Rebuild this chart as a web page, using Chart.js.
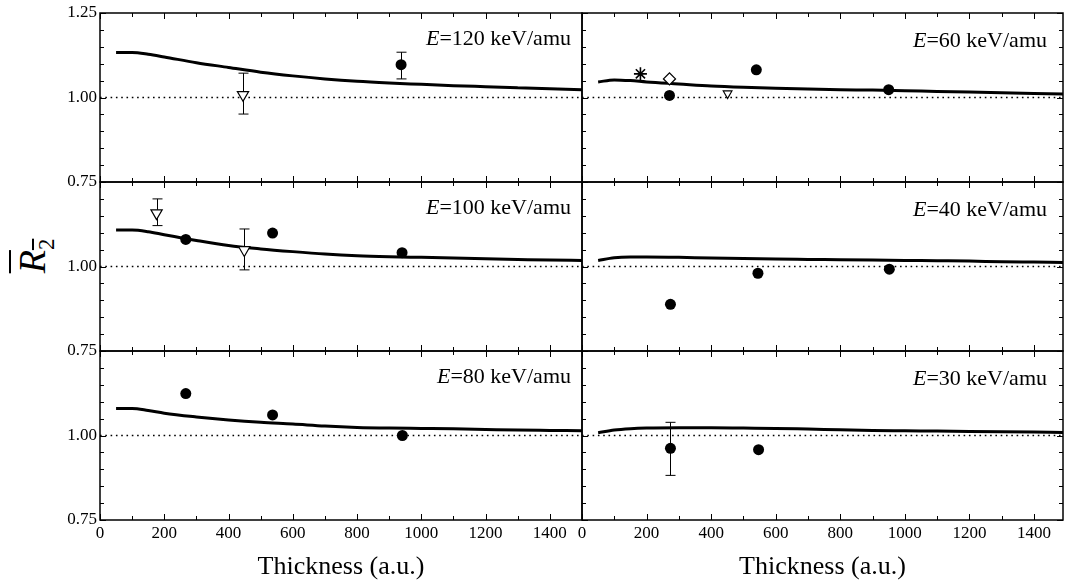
<!DOCTYPE html>
<html>
<head>
<meta charset="utf-8">
<script src="https://cdn.jsdelivr.net/npm/chart.js@4.4.1/dist/chart.umd.min.js"></script>
<style>
  body { margin: 0; background: #fff; width: 1065px; height: 583px; position: relative; overflow: hidden; }
  canvas { position: absolute; }
  #ytitle {
    position: absolute; left: -18px; top: 231px; width: 100px; height: 50px; line-height: 50px;
    text-align: center; font-family: "Liberation Serif", serif; font-size: 38px; color: #000;
    transform: rotate(-90deg);
  }
  #ytitle span { text-decoration: overline; text-decoration-thickness: 2px; }
  #ytitle sub { font-size: 0.6em; }
</style>
</head>
<body>
<div id="ytitle"><span><i>R</i><sub>2</sub></span></div>
<script>
// theory curves, sampled along the thickness axis (a.u.)
const thickness = [50, 100, 150, 200, 300, 400, 500, 600, 700, 800, 900, 1000, 1100, 1200, 1300, 1400, 1500];
const theory120 = [1.133, 1.133, 1.128, 1.120, 1.103, 1.089, 1.075, 1.064, 1.055, 1.048, 1.043, 1.039, 1.035, 1.032, 1.029, 1.026, 1.023];
const theory60  = [1.046, 1.052, 1.050, 1.046, 1.040, 1.034, 1.030, 1.027, 1.025, 1.023, 1.022, 1.020, 1.018, 1.016, 1.014, 1.012, 1.010];
const theory100 = [1.108, 1.108, 1.103, 1.094, 1.077, 1.062, 1.052, 1.044, 1.037, 1.032, 1.029, 1.027, 1.025, 1.023, 1.021, 1.019, 1.018];
const theory40  = [1.018, 1.026, 1.028, 1.028, 1.027, 1.025, 1.024, 1.022, 1.021, 1.020, 1.019, 1.018, 1.017, 1.016, 1.014, 1.013, 1.012];
const theory80  = [1.080, 1.080, 1.074, 1.066, 1.055, 1.046, 1.039, 1.034, 1.028, 1.024, 1.022, 1.021, 1.020, 1.018, 1.016, 1.015, 1.014];
const theory30  = [1.008, 1.016, 1.020, 1.022, 1.023, 1.023, 1.022, 1.021, 1.019, 1.017, 1.015, 1.014, 1.013, 1.012, 1.011, 1.010, 1.009];

// measured points (lo / hi = error bar ends)
const circ120 = [{x: 937, y: 1.097, lo: 1.055, hi: 1.134}];
const tri120  = [{x: 445, y: 1.008, lo: 0.951, hi: 1.072}];
const circ100 = [{x: 267, y: 1.080}, {x: 537, y: 1.099}, {x: 940, y: 1.041}];
const tri100  = [{x: 176, y: 1.158, lo: 1.121, hi: 1.200}, {x: 449, y: 1.049, lo: 0.990, hi: 1.111}];
const circ80  = [{x: 267, y: 1.124}, {x: 537, y: 1.061}, {x: 941, y: 1.000}];
const circ60  = [{x: 271, y: 1.006}, {x: 540, y: 1.082}, {x: 950, y: 1.023}];
const tri60   = [{x: 451, y: 1.012}];
const diam60  = [{x: 271, y: 1.055}];
const star60  = [{x: 181, y: 1.070}];
const circ40  = [{x: 274, y: 0.888}, {x: 545, y: 0.980}, {x: 952, y: 0.992}];
const circ30  = [{x: 274, y: 0.962, lo: 0.882, hi: 1.039}, {x: 547, y: 0.958}];

const energies = ['120', '60', '100', '40', '80', '30'];
const xTicks = [0, 100, 200, 300, 400, 500, 600, 700, 800, 900, 1000, 1100, 1200, 1300, 1400, 1500];
const xLabels = [0, 200, 400, 600, 800, 1000, 1200, 1400];
const yTicks = [0.75, 0.80, 0.85, 0.90, 0.95, 1.00, 1.05, 1.10, 1.15, 1.20, 1.25];
const yLabels = ['0.75', '1.00', '1.25'];
const xTitle = 'Thickness (a.u.)';

Chart.defaults.font.family = '"Liberation Serif", "Times New Roman", serif';
Chart.defaults.color = '#000';
Chart.defaults.animation = false;

const panels = [
  {energy: energies[0], col: 0, row: 0, theory: theory120, circles: circ120, triangles: tri120},
  {energy: energies[1], col: 1, row: 0, theory: theory60, circles: circ60, triangles: tri60, diamonds: diam60, stars: star60},
  {energy: energies[2], col: 0, row: 1, theory: theory100, circles: circ100, triangles: tri100},
  {energy: energies[3], col: 1, row: 1, theory: theory40, circles: circ40},
  {energy: energies[4], col: 0, row: 2, theory: theory80, circles: circ80},
  {energy: energies[5], col: 1, row: 2, theory: theory30, circles: circ30},
];

const rowTop = [13, 182, 351];
const plotH = 169;

// frame, inward ticks, error bars and the energy label
const panelDeco = {
  id: 'panelDeco',
  beforeDatasetsDraw(chart) {
    const {ctx, scales: {x, y}} = chart;
    ctx.save();
    ctx.strokeStyle = '#000';
    ctx.lineWidth = 1;
    ctx.beginPath();
    chart.data.datasets.forEach(ds => {
      ds.data.forEach(pt => {
        if (pt.lo === undefined) return;
        const px = Math.round(x.getPixelForValue(pt.x)) + 0.5;
        const yl = y.getPixelForValue(pt.lo), yh = y.getPixelForValue(pt.hi);
        ctx.moveTo(px, yl); ctx.lineTo(px, yh);
        ctx.moveTo(px - 5, yl); ctx.lineTo(px + 5, yl);
        ctx.moveTo(px - 5, yh); ctx.lineTo(px + 5, yh);
      });
    });
    ctx.stroke();
    ctx.restore();
  },
  afterDraw(chart, args, opts) {
    const {ctx, chartArea: a, scales: {x, y}} = chart;
    ctx.save();
    ctx.strokeStyle = '#000';
    ctx.lineWidth = 1.5;
    ctx.strokeRect(a.left, a.top, a.right - a.left, a.bottom - a.top);
    ctx.lineWidth = 1;
    ctx.beginPath();
    x.ticks.forEach(t => {
      const px = Math.round(x.getPixelForValue(t.value)) + 0.5;
      if (px > a.right) return;
      const len = Math.round(t.value) % 200 === 0 ? 6 : 4;
      ctx.moveTo(px, a.top); ctx.lineTo(px, a.top + len);
      ctx.moveTo(px, a.bottom); ctx.lineTo(px, a.bottom - len);
    });
    y.ticks.forEach(t => {
      const py = Math.round(y.getPixelForValue(t.value)) + 0.5;
      const len = Math.round(t.value * 100) % 25 === 0 ? 6 : 4;
      ctx.moveTo(a.left, py); ctx.lineTo(a.left + len, py);
      if (opts.rightTicks) { ctx.moveTo(a.right, py); ctx.lineTo(a.right - len, py); }
    });
    ctx.stroke();

    // E=... keV/amu
    const fontSize = 22;
    const fam = '"Liberation Serif", "Times New Roman", serif';
    const rest = '=' + opts.energy + ' keV/amu';
    ctx.font = 'italic ' + fontSize + 'px ' + fam;
    const wE = ctx.measureText('E').width;
    ctx.font = fontSize + 'px ' + fam;
    const wR = ctx.measureText(rest).width;
    const x0 = a.right - opts.labelInset - wE - wR;
    const base = a.top + opts.labelDrop;
    ctx.fillStyle = '#000';
    ctx.textBaseline = 'alphabetic';
    ctx.textAlign = 'left';
    ctx.font = 'italic ' + fontSize + 'px ' + fam;
    ctx.fillText('E', x0, base);
    ctx.font = fontSize + 'px ' + fam;
    ctx.fillText(rest, x0 + wE, base);
    ctx.restore();
  }
};

panels.forEach(p => {
  const cv = document.createElement('canvas');
  const left = p.col === 0 ? 0 : 572;
  const width = p.col === 0 ? 592 : 493;
  const top = rowTop[p.row] - 15;
  const bottomRow = p.row === 2;
  const height = bottomRow ? 583 - top : plotH + 30;
  const xMax = p.col === 0 ? 1500 : 1490;
  cv.width = width; cv.height = height;
  cv.style.left = left + 'px'; cv.style.top = top + 'px';
  cv.style.width = width + 'px'; cv.style.height = height + 'px';
  document.body.appendChild(cv);

  const datasets = [];
  datasets.push({data: p.circles, pointStyle: 'circle', pointRadius: 5.5, backgroundColor: '#000',
    borderColor: '#000', borderWidth: 0, order: 1});
  if (p.triangles) datasets.push({data: p.triangles, pointStyle: 'triangle', rotation: 180,
    pointRadius: p.col === 0 ? 6.5 : 5, backgroundColor: '#fff', borderColor: '#000', borderWidth: 1.2, order: 1});
  if (p.diamonds) datasets.push({data: p.diamonds, pointStyle: 'rectRot', pointRadius: 6,
    backgroundColor: '#fff', borderColor: '#000', borderWidth: 1.3, order: 1});
  if (p.stars) datasets.push({data: p.stars, pointStyle: 'star', pointRadius: 6.5,
    backgroundColor: '#000', borderColor: '#000', borderWidth: 1.6, order: 1});
  datasets.push({data: thickness.map((t, i) => ({x: t, y: p.theory[i]})), showLine: true, pointRadius: 0,
    borderColor: '#000', borderWidth: 3, cubicInterpolationMode: 'monotone', clip: 0, order: 2});
  datasets.push({data: [{x: 0, y: 1}, {x: 1500, y: 1}], showLine: true, pointRadius: 0,
    borderColor: '#000', borderWidth: 1.6, borderDash: [1.6, 3.7], clip: 0, order: 3});

  new Chart(cv, {
    type: 'scatter',
    plugins: [panelDeco],
    data: {datasets},
    options: {
      responsive: false,
      events: [],
      layout: {
        autoPadding: false,
        padding: {top: 15, bottom: bottomRow ? 0 : 15, left: p.col === 0 ? 0 : 10, right: p.col === 0 ? 10 : 2}
      },
      plugins: {
        legend: {display: false},
        tooltip: {enabled: false},
        panelDeco: {energy: p.energy, rightTicks: p.col === 1, labelInset: p.col === 0 ? 11 : 16, labelDrop: p.col === 0 ? 32 : 34},
      },
      scales: {
        x: {
          type: 'linear', min: 0, max: xMax, bounds: 'data',
          grid: {display: false, drawTicks: false},
          border: {display: false},
          afterBuildTicks: s => { s.ticks = xTicks.filter(v => v <= xMax).map(v => ({value: v})); },
          afterFit: s => { s.height = bottomRow ? 63 : 0; s.paddingLeft = 0; s.paddingRight = 0; },
          ticks: {
            display: bottomRow, autoSkip: false, maxRotation: 0,
            padding: 3, font: {size: 17},
            callback: v => xLabels.includes(v) ? String(v) : ''
          },
          title: {display: bottomRow, text: xTitle, font: {size: 26}, padding: 0}
        },
        y: {
          min: 0.75, max: 1.25, bounds: 'data',
          grid: {display: false, drawTicks: false},
          border: {display: false},
          afterBuildTicks: s => { s.ticks = yTicks.map(v => ({value: v})); },
          afterFit: s => { s.width = p.col === 0 ? 100 : 0; s.paddingTop = 0; s.paddingBottom = 0; },
          ticks: {
            display: p.col === 0, autoSkip: false, padding: 3, font: {size: 17},
            callback: v => {
              const s = v.toFixed(2);
              return yLabels.includes(s) && (s !== '1.25' || p.row === 0) ? s : '';
            }
          }
        }
      }
    }
  });
});
</script>
</body>
</html>
